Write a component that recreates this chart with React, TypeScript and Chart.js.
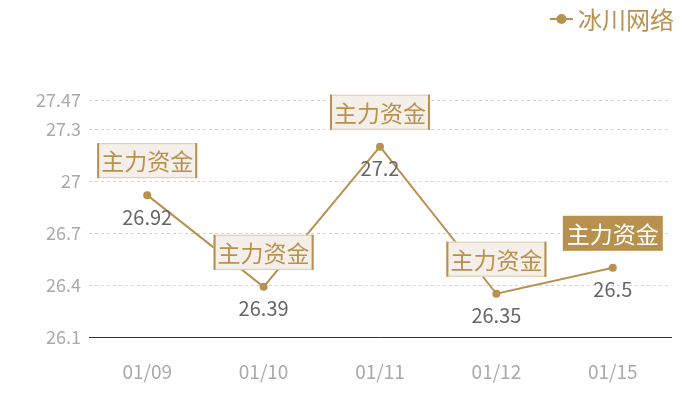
import React, { useEffect, useRef } from "react";
import { Chart, registerables } from "chart.js";

Chart.register(...registerables);

const categories = ["01/09", "01/10", "01/11", "01/12", "01/15"];
const seriesName = "冰川网络";
const values = [26.92, 26.39, 27.2, 26.35, 26.5];
const yTicks = [26.1, 26.4, 26.7, 27, 27.3, 27.47];
const markLabel = "主力资金";
const highlightIndex = [4];

const GOLD = "#b8914f";
const FONT = "'Noto Sans CJK SC', 'Noto Sans', sans-serif";

const overlayPlugin = {
  id: "overlay",
  afterDatasetsDraw(chart: any) {
    const ctx = chart.ctx;
    const meta = chart.getDatasetMeta(0);
    ctx.save();
    // value labels
    ctx.font = `20px ${FONT}`;
    ctx.fillStyle = "#666";
    ctx.textAlign = "center";
    ctx.textBaseline = "middle";
    meta.data.forEach((pt: any, i: number) => {
      ctx.fillText(String(values[i]), pt.x, pt.y + 22);
    });
    // mark boxes
    meta.data.forEach((pt: any, i: number) => {
      const w = 100;
      const h = 35;
      const x = pt.x - w / 2;
      const y = pt.y - 17 - h;
      const hi = highlightIndex.includes(i);
      ctx.fillStyle = hi ? GOLD : "#f4efe9";
      ctx.fillRect(x, y, w, h);
      if (!hi) {
        ctx.strokeStyle = "#dccbb0";
        ctx.lineWidth = 1;
        ctx.strokeRect(x + 0.5, y + 0.5, w - 1, h - 1);
        ctx.fillStyle = GOLD;
        ctx.fillRect(x, y, 2, h);
        ctx.fillRect(x + w - 2, y, 2, h);
      }
      ctx.font = `23px ${FONT}`;
      ctx.fillStyle = hi ? "#ffffff" : GOLD;
      ctx.textAlign = "center";
      ctx.textBaseline = "middle";
      ctx.fillText(markLabel, pt.x, y + h / 2 + 1);
    });
    // legend
    ctx.strokeStyle = GOLD;
    ctx.lineWidth = 2;
    ctx.beginPath();
    ctx.moveTo(550, 19);
    ctx.lineTo(573, 19);
    ctx.stroke();
    ctx.fillStyle = GOLD;
    ctx.beginPath();
    ctx.arc(561.5, 19, 5, 0, Math.PI * 2);
    ctx.fill();
    ctx.font = `24px ${FONT}`;
    ctx.textAlign = "left";
    ctx.textBaseline = "middle";
    ctx.fillText(seriesName, 578, 20);
    ctx.restore();
  },
};

export default function App() {
  const ref = useRef<HTMLCanvasElement | null>(null);
  useEffect(() => {
    document.body.style.margin = "0";
    if (!ref.current) return;
    const chart = new Chart(ref.current, {
      type: "line",
      data: {
        labels: categories,
        datasets: [
          {
            label: seriesName,
            data: values,
            borderColor: GOLD,
            backgroundColor: GOLD,
            borderWidth: 2,
            pointRadius: 4,
            pointHoverRadius: 4,
            pointBackgroundColor: GOLD,
            pointBorderWidth: 0,
            tension: 0,
          },
        ],
      },
      options: {
        animation: false,
        responsive: false,
        maintainAspectRatio: false,
        layout: { padding: { top: 100, right: 29, left: 0, bottom: 0 } },
        plugins: { legend: { display: false }, tooltip: { enabled: false } },
        scales: {
          x: {
            offset: true,
            grid: { display: false, drawTicks: false },
            border: { display: true, color: "#333", width: 1 },
            ticks: { color: "#aaa", font: { size: 19, family: FONT }, padding: 23 },
            afterFit(scale: any) {
              scale.height = 63;
            },
          },
          y: {
            min: 26.1,
            max: 27.47,
            afterBuildTicks(scale: any) {
              scale.ticks = yTicks.map((v) => ({ value: v }));
            },
            grid: { color: "#d4d4d4", drawTicks: false, tickLength: 0 },
            border: { display: false, dash: [3, 3] },
            ticks: {
              color: "#aaa",
              font: { size: 18, family: FONT },
              padding: 8,
              callback: (v: any) => String(v),
            },
            afterFit(scale: any) {
              scale.width = 89;
            },
          },
        },
      },
      plugins: [overlayPlugin],
    });
    return () => chart.destroy();
  }, []);
  return <canvas ref={ref} width={700} height={400} style={{ display: "block" }} />;
}
